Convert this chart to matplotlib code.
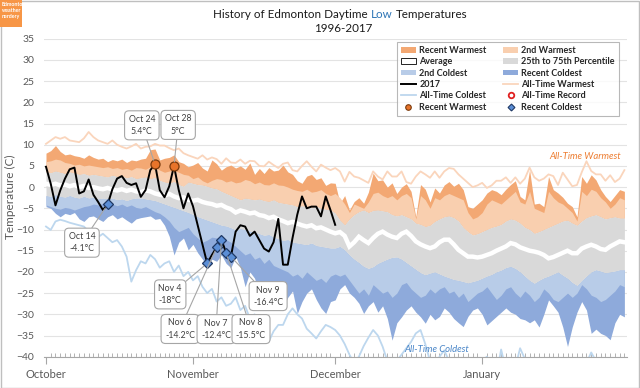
import numpy as np
import pandas as pd
import matplotlib
matplotlib.use("Agg")
import matplotlib.pyplot as plt
import matplotlib.dates as mdates
from matplotlib.patches import Patch, Rectangle
from matplotlib.lines import Line2D

plt.rcParams['font.family'] = ['Lato', 'DejaVu Sans']

# ---------------- data ----------------
dates = pd.date_range("2017-10-01", "2018-01-31", freq="D")

recent_warmest = [
    8.0, 8.6, 9.8, 8.4, 7.6, 7.8, 7.4, 7.2, 6.8, 7.6,
    7.0, 6.6, 6.8, 6.0, 6.5, 6.2, 6.6, 5.8, 6.4, 6.2,
    6.6, 6.8, 8.8, 9.0, 6.4, 6.8, 7.0, 7.6, 6.0, 5.6,
    4.8, 5.2, 5.8, 4.5, 3.8, 6.4, 5.5, 4.0, 4.8, 5.2,
    4.5, 5.0, 4.2, 5.7, 3.0, 4.4, 3.2, 4.6, 3.8, 4.0,
    5.2, 3.6, 3.0, 1.5, 0.9, 2.6, 3.0, 1.8, 2.2, 0.4,
    1.0, 0.9, -3.8, -2.0, -5.4, -3.4, -2.5, -3.8, -1.2, 3.3,
    1.5, 1.7, 0.0, 1.0, -1.5, 0.0, 0.8, -1.0, -7.0, 0.6,
    -0.5, -3.5, -0.2, -1.4, 0.5, 1.3, 0.2, 0.9, -0.6, -4.6,
    -5.0, -4.0, -3.0, -1.4, -0.6, -1.0, -1.8, -0.5, 0.6, 1.5,
    -2.2, -3.0, 4.1, -4.0, -3.8, -4.6, 2.5, -0.6, -1.4, -2.4,
    -3.8, -4.6, -7.0, 2.5, 0.9, 2.9, 1.7, -0.6, -2.2, -3.4,
    -2.0, -0.6, -1.0]

second_warmest = [
    6.0, 6.2, 6.6, 6.4, 5.8, 5.6, 5.2, 5.4, 5.0, 5.2,
    5.0, 4.8, 4.6, 4.8, 4.4, 4.6, 4.2, 4.4, 4.0, 4.6,
    4.5, 4.2, 4.8, 4.6, 4.0, 3.5, 3.8, 4.0, 3.5, 3.0,
    2.8, 2.0, 2.4, 1.5, 1.0, 1.6, 2.0, 1.8, 1.2, 1.5,
    1.0, 1.2, 1.8, 1.5, 0.8, 1.2, 0.6, 0.5, 1.0, 0.5,
    0.4, 0.0, -0.5, -0.8, -1.0, -0.5, -1.2, -1.0, -0.6, -1.5,
    -2.0, -1.5, -2.5, -4.0, -6.0, -4.0, -4.5, -5.0, -3.5, -1.5,
    -1.2, -2.0, -2.5, -2.0, -3.0, -2.0, -1.5, -2.5, -7.5, -2.0,
    -3.0, -5.0, -2.5, -3.0, -2.0, -1.5, -2.0, -2.5, -3.0, -6.0,
    -7.5, -7.0, -6.0, -4.0, -3.0, -3.5, -4.0, -3.0, -2.0, -1.0,
    -3.5, -4.0, -1.0, -5.0, -5.5, -6.0, -1.0, -2.5, -3.5, -4.0,
    -5.0, -6.0, -8.0, -1.0, -2.0, -0.5, -1.0, -2.5, -3.5, -5.0,
    -4.0, -2.5, -3.0]

pct75 = [
    3.6, 3.4, 3.8, 3.5, 3.2, 3.6, 3.3, 3.0, 3.2, 2.8,
    3.0, 2.8, 2.6, 2.4, 2.8, 2.5, 2.6, 2.2, 2.5, 2.0,
    2.2, 2.4, 2.0, 2.3, 1.6, 1.2, 1.0, 1.3, 0.6, 0.2,
    1.2, 0.9, 0.6, 0.5, 0.2, -0.2, -0.4, -1.0, -1.5, -2.0,
    -2.5, -3.0, -2.6, -2.8, -3.0, -2.8, -3.2, -3.4, -3.0, -3.6,
    -3.8, -4.0, -4.2, -4.6, -4.4, -4.6, -4.8, -4.5, -5.0, -5.2,
    -5.4, -6.1, -7.8, -8.9, -7.5, -6.5, -5.8, -5.4, -6.0, -5.5,
    -5.4, -5.6, -5.8, -6.5, -6.8, -6.5, -7.0, -7.5, -8.5, -8.8,
    -9.3, -9.0, -8.1, -7.5, -7.0, -6.8, -7.2, -8.0, -9.5, -10.5,
    -11.3, -11.0, -10.5, -10.0, -9.5, -9.2, -8.8, -8.0, -7.5, -7.8,
    -8.5, -9.5, -10.0, -10.9, -10.5, -10.0, -9.5, -9.0, -8.5, -8.0,
    -7.8, -8.5, -9.0, -8.0, -7.2, -6.8, -6.5, -7.0, -7.5, -7.2,
    -7.0, -7.3, -7.3]

average = [
    0.8, 0.5, 0.8, 0.4, 0.6, 0.2, 0.5, 0.0, 0.3, -0.2,
    0.0, -0.3, -0.5, -0.2, -0.6, -0.8, -0.5, -0.9, -0.6, -1.0,
    -1.2, -0.8, -1.0, -1.5, -1.8, -2.0, -1.6, -2.2, -2.6, -2.4,
    -3.0, -3.2, -3.0, -3.5, -3.8, -4.0, -4.4, -4.2, -4.8, -5.2,
    -6.0, -5.5, -5.8, -6.2, -6.0, -6.6, -6.8, -7.3, -7.0, -7.6,
    -8.0, -8.5, -8.2, -8.6, -9.0, -9.3, -9.0, -9.7, -9.5, -10.0,
    -10.5, -10.9, -10.6, -11.5, -14.0, -13.0, -11.7, -12.5, -13.2, -12.0,
    -11.0, -10.5, -11.2, -11.7, -12.0, -11.0, -10.5, -11.5, -12.8, -13.5,
    -14.0, -14.4, -14.0, -13.0, -12.4, -12.4, -13.5, -14.8, -15.6, -16.4,
    -16.4, -16.6, -16.4, -16.0, -15.6, -15.0, -14.5, -14.0, -13.2, -13.5,
    -14.2, -14.6, -15.0, -15.2, -15.5, -16.0, -16.8, -16.5, -16.0, -15.5,
    -15.0, -15.6, -15.6, -14.5, -14.0, -13.6, -14.0, -14.6, -14.8, -14.0,
    -13.4, -12.8, -13.0]

pct25 = [
    -2.0, -2.2, -1.8, -2.2, -2.4, -2.0, -2.4, -2.6, -2.2, -2.6,
    -2.4, -2.8, -2.6, -2.8, -2.6, -3.0, -2.8, -3.2, -2.8, -2.6,
    -2.6, -2.8, -3.0, -3.2, -3.6, -4.0, -4.4, -4.8, -5.2, -5.6,
    -6.0, -6.5, -7.0, -7.4, -7.8, -8.2, -8.6, -9.0, -9.2, -9.6,
    -10.1, -9.8, -10.0, -10.4, -10.6, -11.0, -11.4, -11.2, -11.8, -12.2,
    -12.6, -12.4, -13.0, -13.2, -13.4, -13.6, -13.2, -13.8, -14.0, -14.2,
    -14.4, -14.4, -14.0, -14.8, -16.0, -17.0, -17.8, -18.7, -19.2, -18.8,
    -18.0, -17.5, -17.0, -16.6, -16.5, -17.0, -17.8, -18.6, -19.4, -20.2,
    -20.7, -20.3, -20.0, -20.5, -21.0, -21.4, -21.8, -22.0, -22.3, -22.6,
    -22.3, -22.0, -21.5, -21.0, -20.6, -20.0, -19.6, -19.0, -18.7, -19.2,
    -20.0, -21.0, -22.0, -22.7, -22.0, -21.4, -21.0, -20.5, -20.0, -20.8,
    -21.5, -22.5, -23.2, -22.0, -21.0, -20.0, -19.5, -19.8, -20.2, -20.0,
    -19.8, -19.5, -19.5]

second_coldest = [
    -4.2, -4.6, -5.0, -5.2, -4.8, -5.0, -5.4, -5.0, -4.6, -4.4,
    -4.0, -4.2, -3.8, -3.8, -4.0, -4.4, -4.0, -4.6, -4.2, -4.8,
    -5.0, -4.6, -5.2, -5.8, -6.2, -7.0, -8.0, -9.5, -10.5, -10.0,
    -9.5, -11.0, -12.0, -13.0, -12.5, -11.8, -12.0, -11.6, -12.4, -13.0,
    -14.0, -15.0, -16.0, -15.5, -17.0, -16.5, -18.0, -17.0, -18.5, -19.0,
    -19.5, -20.0, -21.0, -20.5, -21.5, -20.0, -21.0, -22.0, -21.5, -22.5,
    -21.0, -20.5, -21.0, -20.5, -22.0, -23.5, -25.0, -24.0, -25.5, -23.0,
    -24.0, -25.0, -24.5, -26.0, -25.0, -23.0, -22.5, -24.0, -25.0, -26.0,
    -25.5, -24.0, -25.0, -24.0, -23.5, -25.0, -24.5, -26.0, -25.0, -27.0,
    -26.0, -25.0, -24.5, -23.5, -25.0, -26.5, -25.5, -24.0, -23.5, -25.0,
    -26.0, -24.5, -25.5, -27.0, -26.0, -24.0, -25.0, -26.5, -27.0, -26.0,
    -25.0, -26.0, -25.0, -23.0, -24.0, -25.5, -26.0, -27.0, -26.5, -25.5,
    -24.5, -23.0, -23.5]

recent_coldest = [
    -4.6, -5.0, -6.2, -7.0, -6.2, -6.5, -6.0, -7.5, -8.1, -7.0,
    -6.8, -7.5, -8.1, -7.0, -6.5, -7.5, -7.0, -7.8, -8.5, -7.5,
    -7.2, -7.0, -6.8, -7.6, -7.4, -9.0, -11.6, -16.0, -13.0, -12.0,
    -14.8, -13.5, -15.5, -17.0, -18.5, -17.0, -17.5, -16.0, -18.0, -19.0,
    -16.4, -19.0, -23.5, -20.0, -21.5, -25.5, -22.0, -25.8, -24.0, -26.0,
    -28.2, -26.0, -24.5, -29.8, -27.0, -25.0, -24.0, -26.5, -28.5, -29.8,
    -27.0, -26.6, -24.0, -23.0, -25.0, -26.0, -27.4, -29.8, -28.0, -27.0,
    -29.5, -28.0, -31.0, -36.1, -32.0, -30.6, -29.0, -28.0, -29.5, -30.6,
    -32.1, -30.0, -31.3, -30.5, -28.5, -29.5, -31.0, -32.0, -32.9, -30.5,
    -29.0, -28.5, -30.0, -32.5, -31.5, -30.5, -29.5, -28.5, -29.5, -30.0,
    -31.0, -31.3, -32.0, -31.3, -33.0, -30.0, -26.6, -28.0, -29.5, -33.0,
    -37.6, -33.0, -29.5, -27.0, -29.0, -34.5, -33.5, -34.5, -35.0, -36.0,
    -32.0, -30.0, -30.6]

alltime_warmest = [
    10.2, 11.0, 11.8, 11.4, 11.8, 11.0, 10.8, 10.6, 11.5, 13.0,
    11.8, 11.0, 10.6, 10.2, 11.0, 10.0, 9.5, 9.1, 9.6, 10.2,
    9.1, 9.5, 9.6, 10.2, 9.8, 9.8, 9.2, 8.7, 9.1, 8.0,
    7.5, 7.1, 6.7, 7.5, 6.5, 7.0, 6.6, 5.5, 6.8, 5.8,
    5.7, 6.5, 5.5, 6.2, 6.1, 5.0, 4.9, 6.0, 5.2, 4.5,
    5.5, 5.8, 4.0, 3.7, 5.0, 6.1, 4.8, 3.7, 5.3, 4.6,
    4.0, 4.5, 3.7, 1.3, 3.6, 2.5, 2.2, 1.6, 1.0, 3.7,
    2.5, 1.8, 3.7, 2.5, 2.5, 3.7, 1.2, 0.8, 2.5, 3.7,
    3.0, 2.2, 3.7, 2.2, 3.7, 4.5, 4.3, 3.0, 2.0, 1.0,
    0.0, 0.4, 1.0, -0.2, 0.4, 1.5, 1.5, 2.3, 1.0, 2.3,
    0.8, 2.0, 4.6, 2.3, 1.5, 2.0, 3.0, 2.6, 0.5, 3.4,
    1.8, 0.2, 0.5, 3.5, 6.1, 3.8, 3.0, 3.0, 1.5, 2.8,
    1.2, 2.0, 4.0]

alltime_coldest = [
    -9.3, -10.1, -8.1, -7.7, -8.0, -8.4, -8.7, -9.0, -9.3, -10.5,
    -11.0, -11.8, -11.0, -12.0, -13.0, -12.5, -14.0, -16.4, -22.3, -19.6,
    -17.5, -18.0, -16.0, -17.0, -19.0, -18.0, -17.5, -20.0, -18.5, -21.0,
    -20.0, -22.0, -21.0, -23.5, -25.0, -24.0, -27.0, -26.0, -28.0, -27.5,
    -26.0, -29.0, -28.0, -31.0, -30.0, -33.0, -34.4, -36.4, -34.0, -32.5,
    -32.5, -30.0, -28.6, -30.0, -31.0, -33.4, -34.5, -35.7, -34.0, -32.5,
    -33.0, -33.7, -35.0, -37.0, -39.5, -41.5, -40.0, -37.5, -35.5, -33.7,
    -35.0, -37.6, -41.0, -43.0, -41.0, -39.5, -38.0, -36.5, -34.5, -33.7,
    -37.0, -41.0, -43.0, -40.0, -38.5, -41.0, -43.5, -45.0, -44.0, -42.0,
    -42.0, -43.5, -41.0, -40.0, -42.0, -44.5, -38.3, -43.0, -41.0, -42.5,
    -38.0, -40.5, -42.0, -43.0, -45.0, -44.0, -42.0, -41.5, -43.5, -45.0,
    -44.0, -42.0, -40.5, -43.0, -41.5, -39.0, -41.0, -44.0, -45.0, -42.0,
    -41.0, -43.0, -44.0]

# 2017 daily lows, Oct 1 - Dec 1
y2017 = [
    4.8, 0.8, -4.3, -0.8, 2.0, 4.2, 4.6, -1.5, -1.0, 1.8,
    -1.8, -3.5, -5.4, -4.1, -0.5, 2.0, 2.6, 1.0, 0.5, 0.9,
    -2.3, -0.7, 4.0, 5.4, -0.7, -2.4, 0.2, 5.0, -0.7, -5.0,
    -1.5, -4.5, -9.0, -13.5, -18.0, -16.0, -14.2, -12.4, -15.5, -16.4,
    -10.5, -9.0, -9.3, -11.5, -10.5, -12.5, -14.5, -15.2, -13.0, -7.5,
    -18.3, -18.3, -12.0, -6.5, -2.2, -5.0, -4.6, -4.6, -6.9, -2.2,
    -5.4, -8.9]

rw_dates = ["2017-10-24", "2017-10-28"]
rw_vals = [5.4, 5.0]
rc_dates = ["2017-10-14", "2017-11-04", "2017-11-06", "2017-11-07",
            "2017-11-08", "2017-11-09"]
rc_vals = [-4.1, -18.0, -14.2, -12.4, -15.5, -16.4]

month_labels = ["October", "November", "December", "January"]

# ---------------- style ----------------
C_DO = '#F3A873'
C_LO = '#F9CFAF'
C_GR = '#D9D9D9'
C_LB = '#B8CCE8'
C_DB = '#8EAADB'
C_ATW = '#FAD5BC'
C_ATC = '#BDD7EE'
C_MO, C_MOE = '#E8742A', '#7A3A0C'
C_MB, C_MBE = '#5B8ED6', '#1F3864'

W, H = 640, 388
fig = plt.figure(figsize=(W / 100, H / 100), dpi=100)
ax_l, ax_r, ax_t, ax_b = 44, 627, 38.7, 356.7
ax = fig.add_axes([ax_l / W, 1 - ax_b / H, (ax_r - ax_l) / W, (ax_b - ax_t) / H])

x = mdates.date2num(dates)
x17 = x[:len(y2017)]

ax.fill_between(x, pct75, recent_warmest, color=C_DO, lw=0, zorder=1)
ax.fill_between(x, pct75, second_warmest, color=C_LO, lw=0, zorder=1.1)
ax.fill_between(x, pct25, recent_coldest, color=C_DB, lw=0, zorder=1.2)
ax.fill_between(x, pct25, second_coldest, color=C_LB, lw=0, zorder=1.3)
ax.fill_between(x, pct25, pct75, color=C_GR, lw=0, zorder=1.4)

ax.plot(x, alltime_warmest, color=C_ATW, lw=1.3, zorder=2)
ax.plot(x, alltime_coldest, color=C_ATC, lw=1.3, zorder=2)
ax.plot(x, average, color='white', lw=3.2, zorder=2.5, solid_joinstyle='miter')
ax.plot(x17, y2017, color='black', lw=1.4, zorder=3)

rw_x = mdates.date2num(pd.to_datetime(rw_dates))
rc_x = mdates.date2num(pd.to_datetime(rc_dates))
ax.plot(rw_x, rw_vals, ls='none', marker='o', ms=6.5, mfc=C_MO, mec=C_MOE, mew=0.9, zorder=5)
ax.plot(rc_x, rc_vals, ls='none', marker='D', ms=5.5, mfc=C_MB, mec=C_MBE, mew=0.9, zorder=5)

# callouts (offsets in points)
rw_off = [(-9.5, 28), (3, 29.5)]
rc_off = [(-18.5, -27.5), (-26.6, -22.3), (-26.4, -58.8), (-3.9, -64.4),
          (17.9, -54.9), (26.8, -28.4)]
box = dict(boxstyle='round,pad=0.45,rounding_size=0.5', fc='white', ec='#A6A6A6', lw=0.8)
arrow = dict(arrowstyle='-', color='#A6A6A6', lw=0.8, shrinkA=0, shrinkB=3)
for ds, v, xp, off in list(zip(rw_dates, rw_vals, rw_x, rw_off)) + \
        list(zip(rc_dates, rc_vals, rc_x, rc_off)):
    d = pd.Timestamp(ds)
    ax.annotate(f"{d.strftime('%b')} {d.day}\n{v:g}°C", xy=(xp, v), xytext=off,
                textcoords='offset points', ha='center', va='center',
                fontsize=6.3, color='#404040', linespacing=1.45,
                bbox=box, arrowprops=arrow, zorder=6, annotation_clip=False)

ax.text(x[-1] - 0.8, 7.1, "All-Time Warmest", color='#ED7D31', style='italic',
        fontsize=6.8, ha='right', va='center', zorder=4)
ax.text(x[0] + 75.5, -38.3, "All-Time Coldest", color='#4A86C8', style='italic',
        fontsize=6.8, ha='left', va='center', zorder=4)

ax.set_xlim(x[0] - 0.42, x[-1] + 0.55)
ax.set_ylim(-40, 35)
ax.set_yticks(np.arange(-40, 36, 5))
ax.yaxis.grid(True, color='#E3E3E3', lw=0.8, zorder=0)
ax.set_axisbelow(True)
for s in ['top', 'right', 'left']:
    ax.spines[s].set_visible(False)
ax.spines['bottom'].set_color('#A6A6A6')
ax.spines['bottom'].set_zorder(7)
ax.tick_params(axis='y', length=0, pad=7, labelsize=7.5, labelcolor='#595959')

month_ticks = mdates.date2num(pd.to_datetime(["2017-10-01", "2017-11-01", "2017-12-01", "2018-01-01"]))
ax.set_xticks(month_ticks)
ax.set_xticklabels(month_labels)
ax.xaxis.set_minor_locator(mdates.DayLocator())
ax.tick_params(axis='x', which='major', direction='out', length=5, color='#A6A6A6',
               labelsize=8, labelcolor='#595959', pad=4)
ax.tick_params(axis='x', which='minor', direction='in', length=3, color='#A6A6A6', width=0.6)

fig.text(10 / W, 1 - 197 / H, "Temperature (C)", rotation=90, ha='center', va='center',
         fontsize=8.5, color='#595959')

# legend
handles = [
    Patch(fc=C_DO, ec='none', label='Recent Warmest'),
    Patch(fc='white', ec='#000000', lw=0.6, label='Average'),
    Patch(fc=C_LB, ec='none', label='2nd Coldest'),
    Line2D([], [], color='black', lw=1.4, label='2017'),
    Line2D([], [], color=C_ATC, lw=1.3, label='All-Time Coldest'),
    Line2D([], [], ls='none', marker='o', ms=4, mfc=C_MO, mec=C_MOE, mew=0.8, label='Recent Warmest'),
    Patch(fc=C_LO, ec='none', label='2nd Warmest'),
    Patch(fc=C_GR, ec='none', label='25th to 75th Percentile'),
    Patch(fc=C_DB, ec='none', label='Recent Coldest'),
    Line2D([], [], color=C_ATW, lw=1.3, label='All-Time Warmest'),
    Line2D([], [], ls='none', marker='o', ms=4, mfc='white', mec='#E02020', mew=1.3, label='All-Time Record'),
    Line2D([], [], ls='none', marker='D', ms=3.5, mfc=C_MB, mec=C_MBE, mew=0.8, label='Recent Coldest'),
]
leg = fig.legend(handles=handles, ncol=2, loc='upper left',
                 bbox_to_anchor=(397 / W, 1 - 113 / H, 222 / W, 71 / H), mode='expand',
                 prop={'weight': 'bold', 'size': 6.5}, fancybox=False, frameon=True,
                 borderaxespad=0, borderpad=0.45, labelspacing=0.26, handlelength=1.6,
                 handleheight=0.6, handletextpad=0.4, columnspacing=1.0)
leg.get_frame().set_edgecolor('#A6A6A6')
leg.get_frame().set_linewidth(0.8)
for t in leg.get_texts():
    t.set_color('#262626')

# title with coloured word
fs_t = 8.4
parts = [("History of Edmonton Daytime", '#1A1A1A'), ("Low", '#2E75B6'), ("Temperatures", '#1A1A1A')]
texts = [fig.text(0, 1 - 14 / H, s, color=c, fontsize=fs_t, ha='left', va='center') for s, c in parts]
fig.canvas.draw()
r = fig.canvas.get_renderer()
tmp1 = fig.text(0, 0, "a a", fontsize=fs_t)
tmp2 = fig.text(0, 0, "aa", fontsize=fs_t)
space = tmp1.get_window_extent(r).width - tmp2.get_window_extent(r).width
tmp1.remove(); tmp2.remove()
widths = [t.get_window_extent(r).width for t in texts]
total = sum(widths) + 2 * space
xc = 340 - total / 2
for t, w in zip(texts, widths):
    t.set_x(xc / W)
    xc += w + space
fig.text(343 / W, 1 - 29 / H, "1996-2017", fontsize=fs_t, color='#1A1A1A', ha='center', va='center')

# chart border and logo
fig.add_artist(Rectangle((0.5 / W, 0.5 / H), (W - 1.5) / W, (H - 1.5) / H, transform=fig.transFigure,
                         fill=False, ec='#BFBFBF', lw=1.0))
fig.add_artist(Rectangle((0, 1 - 27 / H), 22 / W, 27 / H, transform=fig.transFigure,
                         fc='#F79646', ec='none'))
fig.text(1.5 / W, 1 - 2 / H, "Edmonton\nweather\nnerdery", color='white', fontsize=3.8,
         ha='left', va='top', weight='bold', linespacing=1.3)

fig.savefig('out.png', dpi=100)
